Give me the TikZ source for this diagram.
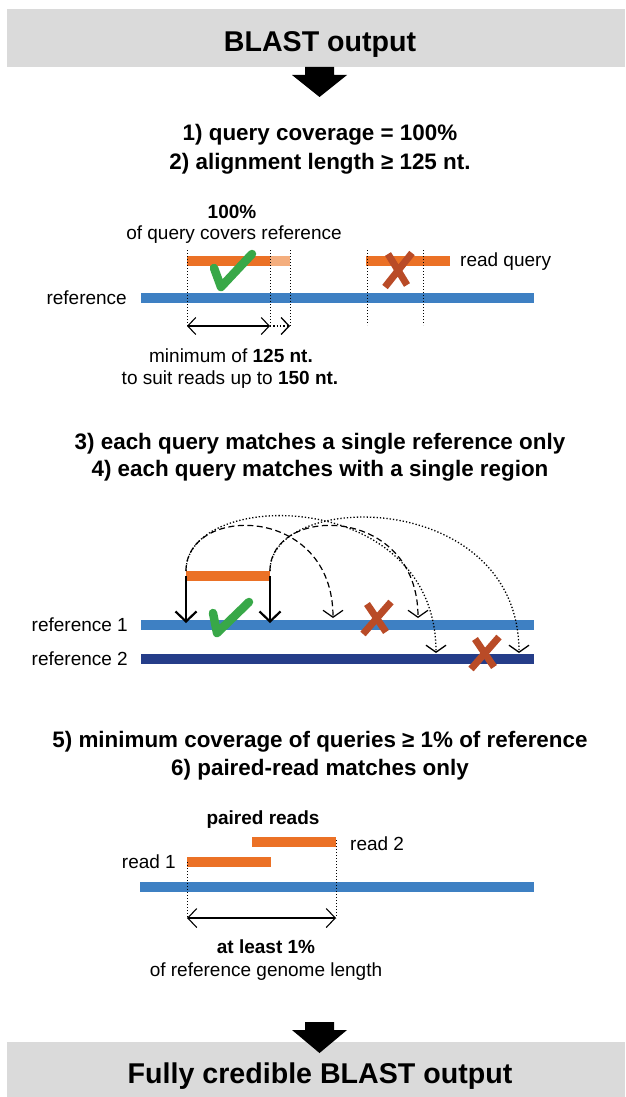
\documentclass[tikz,border=0pt]{standalone}
\usepackage{fontspec}
\setmainfont{Liberation Sans}
\usetikzlibrary{arrows.meta}
\definecolor{boxgray}{HTML}{DADADA}
\definecolor{qorange}{HTML}{EB7126}
\definecolor{qlight}{HTML}{F4AE7E}
\definecolor{refblue}{HTML}{3E80C3}
\definecolor{refnavy}{HTML}{253D89}
\definecolor{okgreen}{HTML}{38A848}
\definecolor{badred}{HTML}{B94B27}
\begin{document}
\begin{tikzpicture}[x=1pt,y=-1pt,
  titletext/.style={font=\fontsize{28.6}{34}\selectfont\bfseries, inner sep=0pt, text height=20.4pt, text depth=0pt},
  headtext/.style={font=\fontsize{22.4}{28}\selectfont\bfseries, inner sep=0pt, text height=16pt, text depth=0pt},
  smalltext/.style={font=\fontsize{19}{22}\selectfont, inner sep=0pt, text height=13.6pt, text depth=0pt},
  refbar/.style={line width=10pt, draw=refblue},
  navybar/.style={line width=10pt, draw=refnavy},
  readbar/.style={line width=10pt, draw=qorange},
  guide/.style={line width=1pt, dash pattern=on 1pt off 2pt},
  thinline/.style={line width=1.1pt},
  dashline/.style={line width=1.2pt, dash pattern=on 6pt off 3.5pt},
  dotline/.style={line width=1.3pt, dash pattern=on 1.3pt off 2pt},
  okmark/.style={draw=okgreen, line width=8.5pt, line cap=round, line join=round},
  badmark/.style={draw=badred, line width=7pt},
  blockarrow/.style={fill=black},
  graybox/.style={fill=boxgray}
]
\useasboundingbox (0,0) rectangle (625,1097);

% ---------- top box ----------
\fill[graybox] (7,9) rectangle (625,67);
\node[titletext] (title) at (320,41) {BLAST output};
\fill[blockarrow] (305,67) -- (334,67) -- (334,75) -- (347,75) -- (319.5,97) -- (292,75) -- (305,75) -- cycle;

% ---------- section 1 ----------
\node[headtext] (h1) at (320,133) {1) query coverage = 100\%};
\node[headtext] (h2) at (320,161) {2) alignment length ≥ 125 nt.};

\node[smalltext,font=\fontsize{19}{22}\selectfont\bfseries] (pct) at (232,212) {100\%};
\node[smalltext] (covers) at (234,233) {of query covers reference};

\coordinate (r1a) at (141,298); \coordinate (r1b) at (534,298);
\draw[refbar] (r1a) -- (r1b);
\node[smalltext,anchor=east] (reflab) at (127,298) {reference};

\coordinate (qa) at (187,261); \coordinate (qb) at (270,261); \coordinate (qc) at (290,261);
\draw[readbar] (qa) -- (qb);
\draw[line width=10pt, qlight] (qb) -- (qc);

\coordinate (g1t) at (187,250); \coordinate (g1b) at (187,327);
\coordinate (g2t) at (270,250); \coordinate (g2b) at (270,327);
\coordinate (g3t) at (290,250); \coordinate (g3b) at (290,327);
\draw[guide] (g1t) -- (g1b);
\draw[guide] (g2t) -- (g2b);
\draw[guide] (g3t) -- (g3b);

\coordinate (m1) at (187,326); \coordinate (m2) at (270,326); \coordinate (m3) at (290,326);
\draw[thinline, {Straight Barb[length=8pt,width=17pt]}-{Straight Barb[length=8pt,width=17pt]}] (m1) -- (m2);
\draw[dotline, -{Straight Barb[length=8pt,width=17pt]}] (m2) -- (m3);

\draw[okmark] (214,268) -- (221,287) -- (252,254);

\node[smalltext] (minlab) at (231,356) {minimum of \textbf{125 nt.}};
\node[smalltext] (suitlab) at (230,378) {to suit reads up to \textbf{150 nt.}};

\coordinate (xa) at (366,261); \coordinate (xb) at (450,261);
\draw[readbar] (xa) -- (xb);
\coordinate (g4t) at (367,250); \coordinate (g4b) at (367,325);
\coordinate (g5t) at (423,250); \coordinate (g5b) at (423,325);
\draw[guide] (g4t) -- (g4b);
\draw[guide] (g5t) -- (g5b);
\draw[badmark] (388,254) -- (407,285) (412,253) -- (385,287);
\node[smalltext,anchor=west] (rq) at (460,260) {read query};

% ---------- section 2 ----------
\node[headtext] (h3) at (320,441) {3) each query matches a single reference only};
\node[headtext] (h4) at (320,468) {4) each query matches with a single region};

\coordinate (ra1) at (141,625); \coordinate (rb1) at (534,625);
\coordinate (ra2) at (141,659); \coordinate (rb2) at (534,659);
\draw[refbar] (ra1) -- (rb1);
\draw[navybar] (ra2) -- (rb2);
\node[smalltext,anchor=east] (ref1) at (128,625) {reference 1};
\node[smalltext,anchor=east] (ref2) at (128,659) {reference 2};

\coordinate (sa) at (186,576); \coordinate (sb) at (270,576);
\draw[readbar] (sa) -- (sb);

\coordinate (sat) at (186,571); \coordinate (sbt) at (270,571);
\coordinate (sad) at (186,623); \coordinate (sbd) at (270,623);
\draw[line width=2.2pt, -{Straight Barb[length=10pt,width=21pt]}] (sa) -- (sad);
\draw[line width=2.2pt, -{Straight Barb[length=10pt,width=21pt]}] (sb) -- (sbd);

\coordinate (e1) at (333,618); \coordinate (e2) at (418,618);
\coordinate (e3) at (436,653); \coordinate (e4) at (519,653);
\draw[dashline, -{Straight Barb[length=7pt,width=20pt]}] (sat) .. controls (186,504) and (333,504) .. (e1);
\draw[dashline, -{Straight Barb[length=7pt,width=20pt]}] (sbt) .. controls (270,504) and (418,504) .. (e2);
\draw[dotline, -{Straight Barb[length=7pt,width=20pt]}] (sat) .. controls (186,487) and (436,487) .. (e3);
\draw[dotline, -{Straight Barb[length=7pt,width=20pt]}] (sbt) .. controls (270,489) and (519,489) .. (e4);

\draw[okmark] (213,613) -- (217,633) -- (249,602);
\draw[badmark] (367,604) -- (386,632) (391,602) -- (363,634);
\draw[badmark] (475,639) -- (494,667) (499,637) -- (471,669);

% ---------- section 3 ----------
\node[headtext] (h5) at (320,739) {5) minimum coverage of queries ≥ 1\% of reference};
\node[headtext] (h6) at (320,767) {6) paired-read matches only};

\node[smalltext,font=\fontsize{19}{22}\selectfont\bfseries] (paired) at (263,818) {paired reads};

\coordinate (p2a) at (252,842); \coordinate (p2b) at (336,842);
\coordinate (p1a) at (187,862); \coordinate (p1b) at (271,862);
\draw[readbar] (p2a) -- (p2b);
\draw[readbar] (p1a) -- (p1b);
\node[smalltext,anchor=west] (read2) at (350,844) {read 2};
\node[smalltext,anchor=east] (read1) at (176,862) {read 1};

\coordinate (r3a) at (140,887); \coordinate (r3b) at (534,887);
\draw[refbar] (r3a) -- (r3b);

\coordinate (g6t) at (187,862); \coordinate (g6b) at (187,918);
\coordinate (g7t) at (336,840); \coordinate (g7b) at (336,918);
\draw[guide] (g6t) -- (g6b);
\draw[guide] (g7t) -- (g7b);
\draw[thinline, {Straight Barb[length=9pt,width=19pt]}-{Straight Barb[length=9pt,width=19pt]}] (g6b) -- (g7b);

\node[smalltext,font=\fontsize{19}{22}\selectfont\bfseries] (least) at (266,947) {at least 1\%};
\node[smalltext] (genome) at (266,970) {of reference genome length};

% ---------- bottom box ----------
\fill[graybox] (7,1042) rectangle (625,1097);
\fill[blockarrow] (305,1022) -- (334,1022) -- (334,1030) -- (347,1030) -- (319.5,1053) -- (292,1030) -- (305,1030) -- cycle;
\node[titletext] (final) at (320,1073) {Fully credible BLAST output};
\end{tikzpicture}
\end{document}
